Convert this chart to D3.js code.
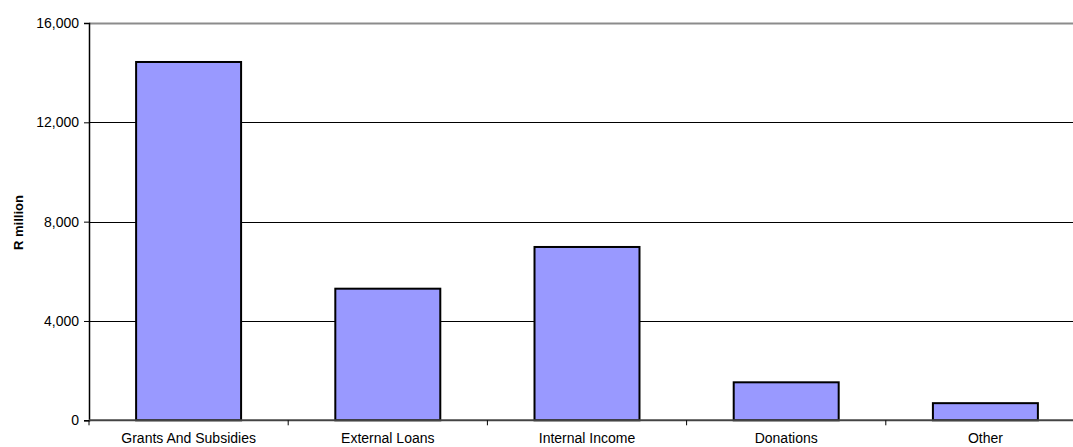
<!DOCTYPE html>
<html>
<head>
<meta charset="utf-8">
<script src="https://cdn.jsdelivr.net/npm/d3@7"></script>
<style>
  html, body { margin: 0; padding: 0; background: #fff; }
  svg { display: block; font-family: "Liberation Sans", Arial, sans-serif; }
</style>
</head>
<body>
<svg id="chart" width="1073" height="447"></svg>
<script>
// Funding sources (R million)
const categories = ["Grants And Subsidies", "External Loans", "Internal Income", "Donations", "Other"];
const values = [14430, 5300, 6980, 1530, 690];
const yTicks = [0, 4000, 8000, 12000, 16000];
const yTitle = "R million";

const svg = d3.select("#chart");
const plotLeft = 89, plotRight = 1085, plotTop = 23, plotBottom = 420.3;
const fontFamily = "Liberation Sans, Arial, sans-serif";

const x = d3.scaleBand().domain(categories).range([plotLeft, plotRight])
  .paddingInner(0.473).paddingOuter(0.2365);
const y = d3.scaleLinear().domain([0, 16000]).range([plotBottom, plotTop]);

// horizontal gridlines
svg.append("g").selectAll("line")
  .data(yTicks.filter(d => d > 0))
  .join("line")
  .attr("x1", plotLeft).attr("x2", 1073)
  .attr("y1", d => Math.round(y(d)) + 0.5).attr("y2", d => Math.round(y(d)) + 0.5)
  .attr("stroke", d => d === 16000 ? "#8c8c8c" : "#000")
  .attr("stroke-width", d => d === 16000 ? 2 : 1);

// bars
svg.append("g").selectAll("rect")
  .data(categories)
  .join("rect")
  .attr("x", d => x(d))
  .attr("width", x.bandwidth())
  .attr("y", (d, i) => y(values[i]))
  .attr("height", (d, i) => plotBottom - y(values[i]))
  .attr("fill", "#9999ff")
  .attr("stroke", "#000")
  .attr("stroke-width", 2);

// y axis
const yAxis = d3.axisLeft(y).tickValues(yTicks).tickSize(5).tickPadding(5)
  .tickFormat(d3.format(","));
const gy = svg.append("g").attr("transform", `translate(${plotLeft},0)`).call(yAxis);
gy.select(".domain").attr("stroke", "#000").attr("stroke-width", 1.5);
gy.selectAll(".tick line").attr("stroke", "#000");
gy.selectAll(".tick text").attr("font-size", 14).attr("fill", "#000")
  .attr("font-family", fontFamily);

// x axis with ticks between categories
const xAxis = d3.axisBottom(x).tickSize(0).tickPadding(13);
const gx = svg.append("g").attr("transform", `translate(0,${plotBottom})`).call(xAxis);
gx.select(".domain").attr("stroke", "#444").attr("stroke-width", 2).attr("d", `M${plotLeft},0H1073`);
gx.selectAll(".tick text").attr("font-size", 14).attr("fill", "#000")
  .attr("font-family", fontFamily);
const step = x.step();
gx.append("g").selectAll("line")
  .data(d3.range(categories.length + 1))
  .join("line")
  .attr("x1", i => plotLeft + i * step).attr("x2", i => plotLeft + i * step)
  .attr("y1", 0).attr("y2", 5)
  .attr("stroke", "#000");

// y axis title
svg.append("text")
  .attr("transform", `translate(22.5,222.5) rotate(-90)`)
  .attr("text-anchor", "middle")
  .attr("font-size", 13).attr("font-weight", "bold")
  .attr("font-family", fontFamily)
  .text(yTitle);
</script>
</body>
</html>
